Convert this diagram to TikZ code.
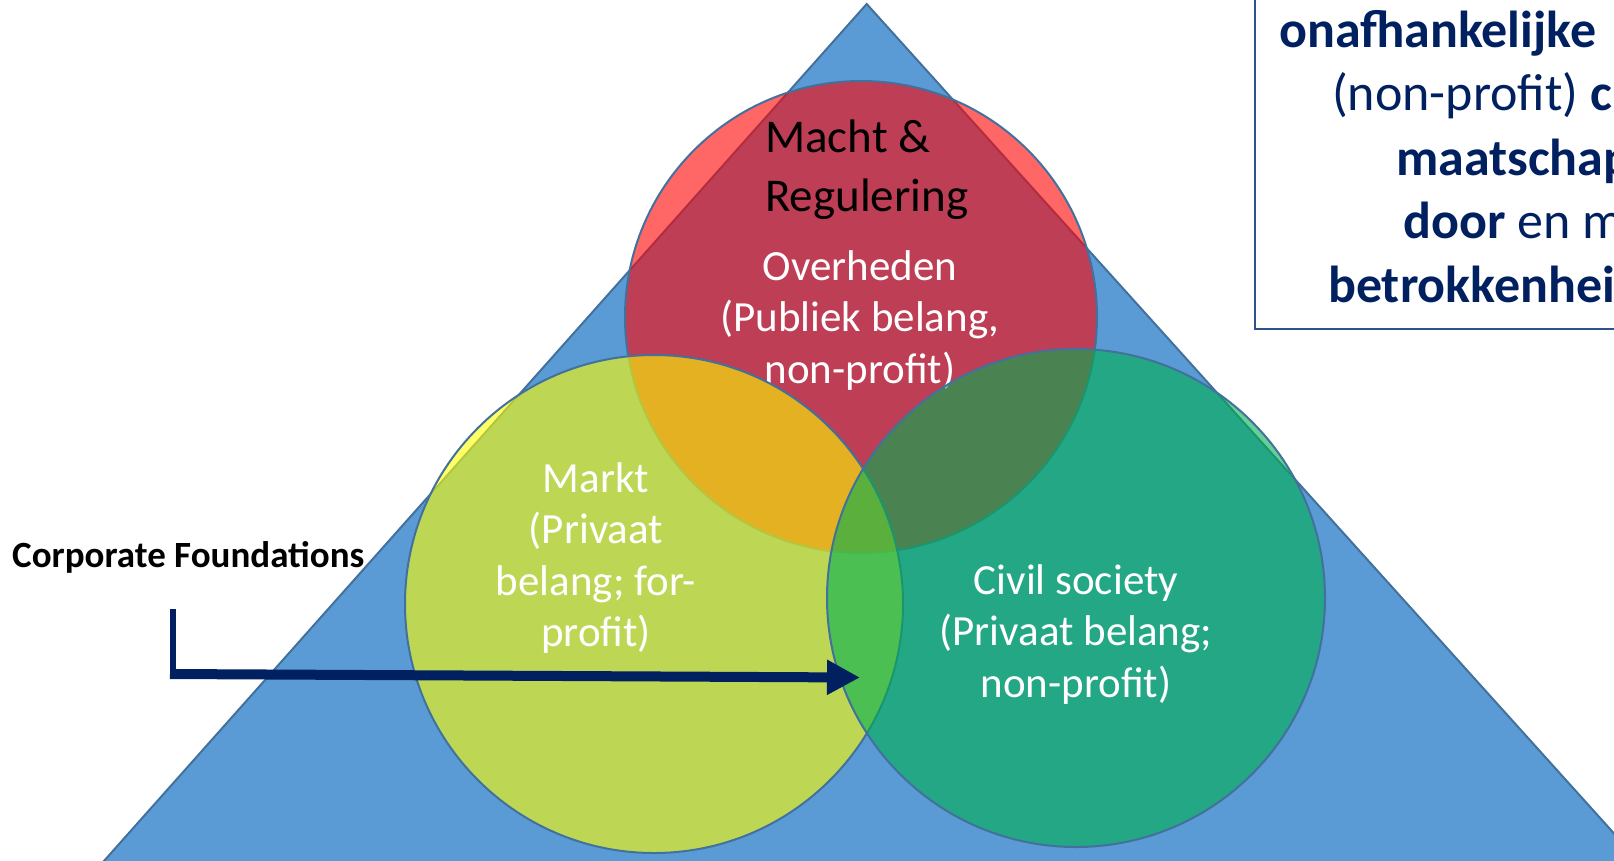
\documentclass[tikz,border=0pt]{standalone}
\usepackage{fontspec}
\setmainfont{Carlito}
\usetikzlibrary{arrows.meta}
\definecolor{triBlue}{HTML}{5B9BD5}
\definecolor{edgeBlue}{HTML}{41719C}
\definecolor{navy}{HTML}{002060}
\definecolor{boxEdge}{HTML}{2F528F}
\definecolor{govRed}{HTML}{FF0000}
\definecolor{mktYellow}{HTML}{FFFF00}
\definecolor{civGreen}{HTML}{00B050}
\begin{document}
\begin{tikzpicture}[x=1pt,y=-1pt,
  circ/.style={draw=edgeBlue, line width=2pt, fill opacity=0.6},
  lbl/.style={text=white, align=center, inner sep=0pt, anchor=base,
              font=\fontsize{43}{51.5}\selectfont},
  boxtxt/.style={text=navy, inner sep=0pt, anchor=base west,
              font=\fontsize{52}{64}\selectfont}]
\useasboundingbox (0,0) rectangle (1614,860);
\clip (0,0) rectangle (1614,860);
\fill[white] (0,0) rectangle (1614,860);
% triangle
\filldraw[fill=triBlue, draw=edgeBlue, line width=2pt]
  (866.7,4) -- (1687.5,915) -- (55.9,915) -- cycle;
% government circle (node anchors at the baseline of the last line)
\path[circ, fill=govRed] (861,317) circle [radius=236pt];
\node[font=\fontsize{47}{59}\selectfont, align=left, anchor=base west, inner sep=0pt]
  (macht) at (765,211.5) {Macht \&\\Regulering};
\node[lbl] (overheden) at (860,383) {Overheden\\(Publiek belang,\\non-profit)};
% market circle
\path[circ, fill=mktYellow] (654,604) circle [radius=249pt];
\node[lbl] (markt) at (596,646.5) {Markt\\(Privaat\\belang; for-\\profit)};
% civil society circle
\path[circ, fill=civGreen] (1076,598) circle [radius=249pt];
\node[lbl] (civil) at (1076,697) {Civil society\\(Privaat belang;\\non-profit)};
% label
\node[font=\bfseries\fontsize{37}{44}\selectfont, anchor=base west, inner sep=0pt]
  (cf) at (12,567) {Corporate Foundations};
% text box
\draw[draw=boxEdge, line width=2pt, fill=white] (1255,-20) rectangle (1700,329);
\node[boxtxt] (b1) at (1279,47) {\bfseries onafhankelijke};
\node[boxtxt] (b2) at (1332,110) {(non-profit) \textbf{c}};
\node[boxtxt] (b3) at (1396,175) {\bfseries maatschap};
\node[boxtxt] (b4) at (1403,238) {\textbf{door} en m};
\node[boxtxt] (b5) at (1328,302) {\bfseries betrokkenhei};
% arrow
\coordinate (vTop) at (173,609);
\coordinate (vBot) at (173,679);
\coordinate (aStart) at (170,674);
\coordinate (aTip) at (860,677.5);
\draw[navy, line width=6pt] (vTop) -- (vBot);
\draw[navy, line width=10pt, -{Triangle[length=33pt,width=33pt]}] (aStart) -- (aTip);
\end{tikzpicture}
\end{document}
